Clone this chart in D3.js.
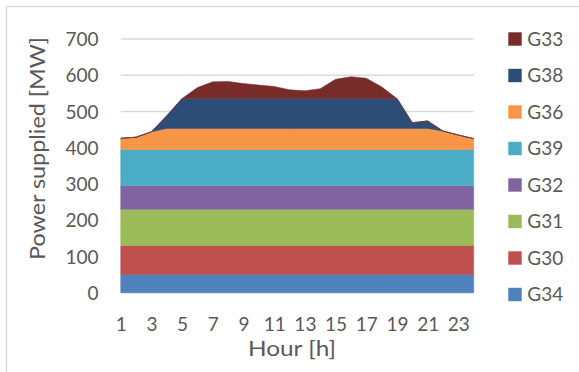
<!DOCTYPE html>
<html>
<head>
<meta charset="utf-8">
<script src="https://cdn.jsdelivr.net/npm/d3@7"></script>
<style>
  html, body { margin: 0; padding: 0; background: #fff; }
  svg { display: block; }
  text { font-family: Lato, "Open Sans", sans-serif; fill: #595959; }
</style>
</head>
<body>
<svg id="chart" width="579" height="372"></svg>
<script>
// ---- data ----
const hours = [1,2,3,4,5,6,7,8,9,10,11,12,13,14,15,16,17,18,19,20,21,22,23,24];
const G34 = [50,50,50,50,50,50,50,50,50,50,50,50,50,50,50,50,50,50,50,50,50,50,50,50];
const G30 = [80,80,80,80,80,80,80,80,80,80,80,80,80,80,80,80,80,80,80,80,80,80,80,80];
const G31 = [100,100,100,100,100,100,100,100,100,100,100,100,100,100,100,100,100,100,100,100,100,100,100,100];
const G32 = [65,65,65,65,65,65,65,65,65,65,65,65,65,65,65,65,65,65,65,65,65,65,65,65];
const G39 = [100,100,100,100,100,100,100,100,100,100,100,100,100,100,100,100,100,100,100,100,100,100,100,100];
const G36 = [31,34,49,58,58,58,58,58,58,58,58,58,58,58,58,58,58,58,58,58,58,51,40,30];
const G38 = [0,0,0,35,83,83,83,83,83,83,83,83,83,83,83,83,83,83,83,16,21,0,0,0];
const G33 = [0,0,0,0,0,30,46,47,41,37,33,24,21,27,53,60,56,32,0,0,0,0,0,0];
const seriesNames = ["G34","G30","G31","G32","G39","G36","G38","G33"];
const seriesValues = [G34,G30,G31,G32,G39,G36,G38,G33];
const seriesColors = ["#4F81BD","#C0504D","#9BBB59","#8064A2","#4BACC6","#F79646","#2C4D75","#772C2A"];
const yTicks = [0,100,200,300,400,500,600,700];
const xTickLabels = [1,3,5,7,9,11,13,15,17,19,21,23];

// ---- layout ----
const svg = d3.select("#chart");
const pLeft = 120.7, pRight = 473.7, pTop = 39, pBottom = 292.7;

svg.append("rect").attr("x",6.5).attr("y",6.5).attr("width",620).attr("height",420)
  .attr("fill","none").attr("stroke","#D9D9D9").attr("stroke-width",1.3);

const x = d3.scaleLinear().domain([1,24]).range([pLeft,pRight]);
const y = d3.scaleLinear().domain([0,700]).range([pBottom,pTop]);

// gridlines
svg.append("g").selectAll("line").data(yTicks).join("line")
  .attr("x1",pLeft).attr("x2",pRight)
  .attr("y1",d=>y(d)).attr("y2",d=>y(d))
  .attr("stroke","#D9D9D9").attr("stroke-width",1.5);

// stacked data
const table = hours.map((h,i)=>{
  const o = {hour:h};
  seriesNames.forEach((n,k)=>o[n]=seriesValues[k][i]);
  return o;
});
const stack = d3.stack().keys(seriesNames)(table);
const area = d3.area()
  .x(d=>x(d.data.hour))
  .y0(d=>y(d[0]))
  .y1(d=>y(d[1]));

svg.append("g").selectAll("path").data(stack).join("path")
  .attr("d",area)
  .attr("fill",(d,i)=>seriesColors[i])
  .attr("stroke",(d,i)=>seriesColors[i])
  .attr("stroke-width",0.5);

// y axis labels
const yAxis = d3.axisLeft(y).tickValues(yTicks).tickSize(0).tickPadding(0);
const gy = svg.append("g").attr("transform",`translate(98.5,0)`).call(yAxis);
gy.select(".domain").remove();
gy.selectAll("text").attr("font-size",19).style("font-family","Lato, sans-serif").attr("fill","#595959").attr("dy","0.35em");

// x axis labels
const xAxis = d3.axisBottom(x).tickValues(xTickLabels).tickSize(0).tickPadding(0).tickFormat(d3.format("d"));
const gx = svg.append("g").attr("transform",`translate(0,${pBottom})`).call(xAxis);
gx.select(".domain").remove();
gx.selectAll("text").attr("font-size",19).style("font-family","Lato, sans-serif").attr("fill","#595959").attr("y",38.8).attr("dy",0);

// axis titles
svg.append("text").attr("x",292).attr("y",356).attr("text-anchor","middle")
  .attr("font-size",20.5).attr("textLength",88).attr("lengthAdjust","spacingAndGlyphs").text("Hour [h]");
svg.append("text").attr("transform","translate(45,148.5) rotate(-90)").attr("text-anchor","middle")
  .attr("font-size",20.5).attr("textLength",223).attr("lengthAdjust","spacingAndGlyphs").text("Power supplied [MW]");

// legend
const legendOrder = ["G33","G38","G36","G39","G32","G31","G30","G34"];
const lg = svg.append("g").selectAll("g").data(legendOrder).join("g")
  .attr("transform",(d,i)=>`translate(508.3,${39 + i*36.5})`);
lg.append("rect").attr("x",0).attr("y",-6.7).attr("width",13.4).attr("height",13.4)
  .attr("fill",d=>seriesColors[seriesNames.indexOf(d)]);
lg.append("text").attr("x",19).attr("y",0).attr("dy","0.36em").attr("font-size",19).text(d=>d);
</script>
</body>
</html>
